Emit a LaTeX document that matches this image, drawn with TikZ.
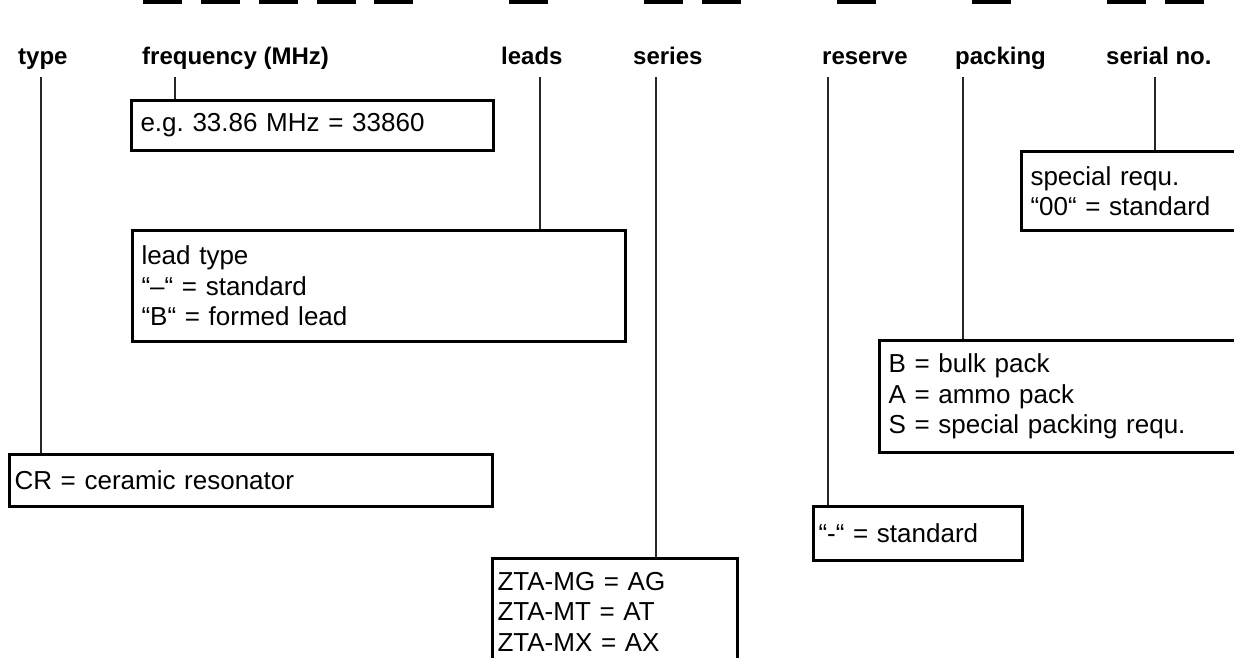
\documentclass[tikz,border=0pt]{standalone}
\usepackage{fontspec}
\setmainfont{Liberation Sans}
\frenchspacing
\begin{document}
\begin{tikzpicture}[x=1pt, y=-1pt,
	codebar/.style={fill=black},
	fieldlabel/.style={anchor=base west, inner sep=0pt, font=\fontsize{24}{28}\selectfont\bfseries},
	infobox/.style={draw, line width=3pt, anchor=north west, align=left, inner xsep=9pt, inner ysep=0pt, font=\fontsize{26}{30.5}\selectfont},
	tightbox/.style={infobox, inner xsep=5pt},
	tap/.style={line width=1.4pt, draw=black!85}]
	
	\useasboundingbox (0,0) rectangle (1234,657);
	\clip (0,0) rectangle (1234,657);
	
	% Code positions
	\foreach \xa in {143,201,259,317,374,509,644,702,837,972,1107,1165}
		\fill[codebar] (\xa,-6) rectangle ++(39,10);
	
	% Field labels
	\node[fieldlabel] (lbltype) at (18,64) {type};
	\node[fieldlabel] (lblfreq) at (142,64) {frequency (MHz)};
	\node[fieldlabel] (lbllead) at (501,64) {leads};
	\node[fieldlabel] (lblseries) at (633,64) {series};
	\node[fieldlabel] (lblreserve) at (822,64) {reserve};
	\node[fieldlabel] (lblpacking) at (955,64) {packing};
	\node[fieldlabel] (lblserial) at (1106,64) {serial no.};
	
	% Explanation boxes
	\node[infobox, minimum width=362pt, minimum height=50pt, text width=344pt] (boxfreq) at (130,99) {e.g. 33.86 MHz = 33860};
	\node[infobox, minimum width=493pt, minimum height=111pt, text width=475pt] (boxlead) at (131,229) {lead type\\“–“ = standard\\“B“ = formed lead};
	\node[tightbox, minimum width=483pt, minimum height=52pt, text width=473pt] (boxtype) at (8,453) {CR = ceramic resonator};
	\node[tightbox, minimum width=245pt, minimum height=106pt, text width=235pt] (boxseries) at (491,557) {ZTA-MG = AG\\ZTA-MT = AT\\ZTA-MX = AX};
	\node[tightbox, minimum width=209pt, minimum height=54pt, text width=199pt] (boxreserve) at (812,505) {“-“ = standard};
	\node[infobox, minimum width=390pt, minimum height=112pt, text width=372pt] (boxpacking) at (878,339) {B = bulk pack\\A = ammo pack\\S = special packing requ.};
	\node[infobox, minimum width=250pt, minimum height=79pt, text width=232pt] (boxserial) at (1020,150) {special requ.\\“00“ = standard};
	
	% Taps from the labels down to the boxes
	\coordinate (ttype) at (41,77);
	\coordinate (tfreq) at (175,77);
	\coordinate (tlead) at (540,77);
	\coordinate (tseries) at (656,77);
	\coordinate (treserve) at (828,77);
	\coordinate (tpacking) at (963,77);
	\coordinate (tserial) at (1155,77);
	\foreach \t/\b in {ttype/boxtype, tfreq/boxfreq, tlead/boxlead, tseries/boxseries, treserve/boxreserve, tpacking/boxpacking, tserial/boxserial}
		\draw[tap] (\t) -- (\t |- \b.north);
	
\end{tikzpicture}
\end{document}
